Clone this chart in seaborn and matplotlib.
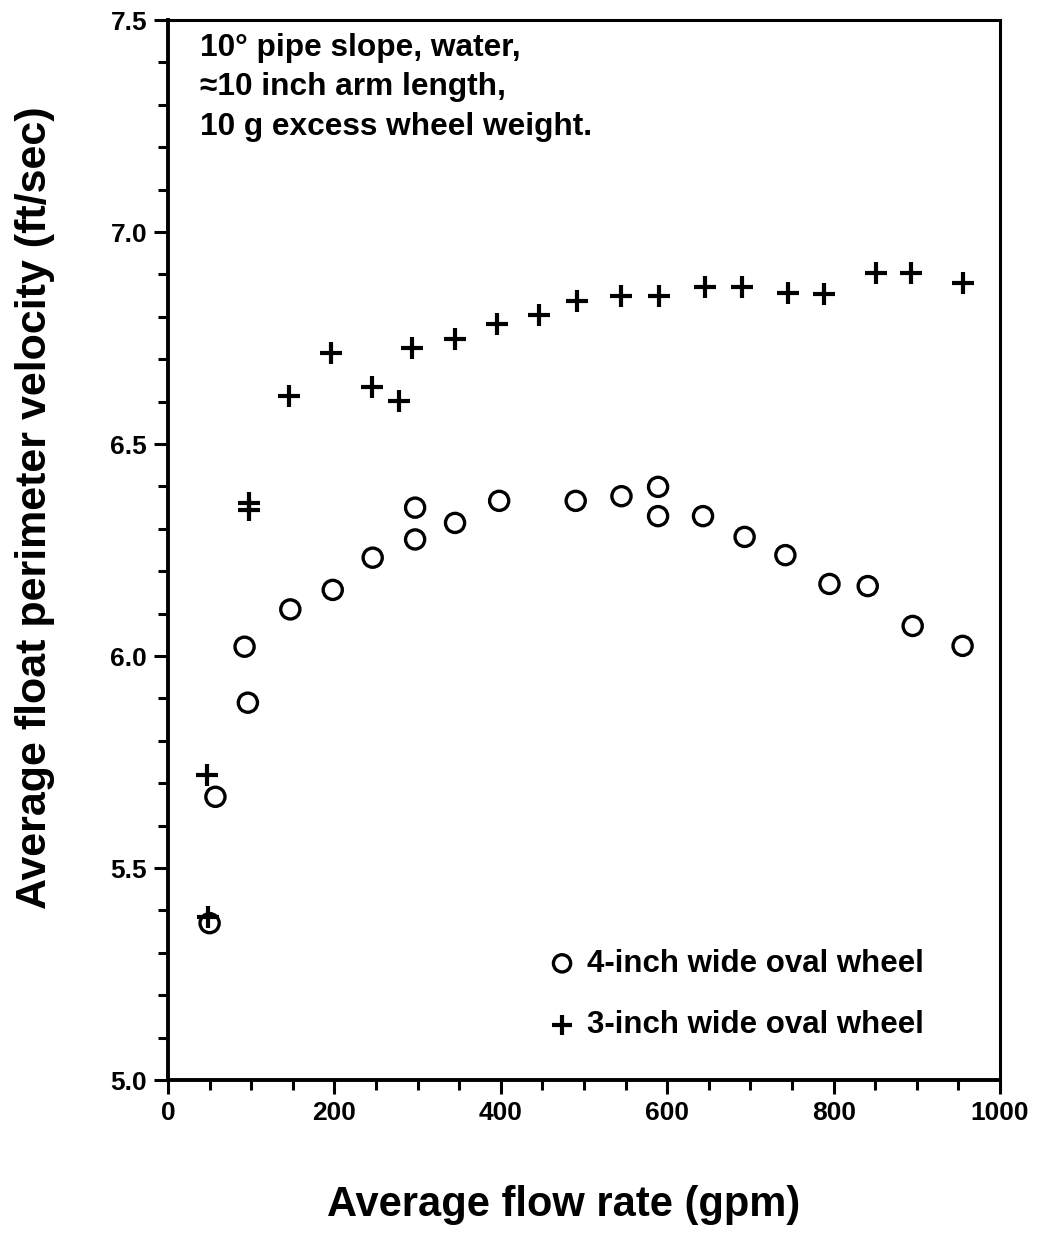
import matplotlib
matplotlib.use("Agg")
import matplotlib.pyplot as plt
import seaborn as sns
from matplotlib.ticker import MultipleLocator, FormatStrFormatter

# 4-inch wide oval wheel (circles)
flow_4in = [57, 50, 92, 96, 147, 198, 246, 297, 297, 345, 398, 490, 545,
            589, 589, 643, 693, 742, 795, 841, 895, 955]
vel_4in = [5.668, 5.370, 6.022, 5.890, 6.110, 6.156, 6.232, 6.275, 6.350,
           6.314, 6.366, 6.366, 6.377, 6.399, 6.330, 6.330, 6.281, 6.238,
           6.170, 6.165, 6.071, 6.024]

# 3-inch wide oval wheel (crosses)
flow_3in = [47, 48, 97, 97, 146, 196, 245, 278, 293, 345, 395, 446, 492,
            545, 590, 646, 690, 745, 788, 851, 893, 955]
vel_3in = [5.720, 5.385, 6.362, 6.345, 6.613, 6.715, 6.634, 6.602, 6.727,
           6.748, 6.784, 6.805, 6.838, 6.849, 6.849, 6.871, 6.871, 6.857,
           6.855, 6.904, 6.904, 6.880]

label_4in = "4-inch wide oval wheel"
label_3in = "3-inch wide oval wheel"
note = "10° pipe slope, water,\n≈10 inch arm length,\n10 g excess wheel weight."

sns.set_style("ticks")
plt.rcParams["font.family"] = ["Liberation Sans", "DejaVu Sans"]
for key in ["text.color", "axes.labelcolor", "xtick.color", "ytick.color",
            "axes.edgecolor"]:
    plt.rcParams[key] = "black"

fig = plt.figure(figsize=(10.39, 12.38), dpi=100)
ax = fig.add_axes([0.1617, 0.1276, 0.8008, 0.8562])

sns.scatterplot(x=flow_4in, y=vel_4in, marker="o", s=190, color="black",
                linewidth=2.4, label=label_4in, ax=ax)
ax.collections[-1].set_facecolor("none")
ax.collections[-1].set_edgecolor("black")
sns.scatterplot(x=flow_3in, y=vel_3in, marker="+", s=270, color="black",
                linewidth=3.0, label=label_3in, ax=ax)

ax.set_xlim(0, 1000)
ax.set_ylim(5.0, 7.5)
ax.xaxis.set_major_locator(MultipleLocator(200))
ax.xaxis.set_minor_locator(MultipleLocator(50))
ax.yaxis.set_major_locator(MultipleLocator(0.5))
ax.yaxis.set_minor_locator(MultipleLocator(0.1))
ax.yaxis.set_major_formatter(FormatStrFormatter("%.1f"))

for side in ["left", "bottom"]:
    ax.spines[side].set_linewidth(2.8)
for side in ["top", "right"]:
    ax.spines[side].set_linewidth(2.2)
    ax.spines[side].set_visible(True)

ax.tick_params(axis="both", which="major", direction="out", length=10,
               width=2.2, pad=5, labelsize=19)
ax.tick_params(axis="both", which="minor", direction="out", length=7, width=2.2)
for lab in ax.get_xticklabels() + ax.get_yticklabels():
    lab.set_fontweight("bold")

ax.set_xlabel("Average flow rate (gpm)", fontsize=30, fontweight="bold")
ax.set_ylabel("Average float perimeter velocity (ft/sec)", fontsize=31,
              fontweight="bold")
ax.xaxis.set_label_coords(0.476, -0.099)
ax.yaxis.set_label_coords(-0.136, 0.54)

ax.text(0.038, 0.988, note, transform=ax.transAxes, ha="left", va="top",
        fontsize=22.8, fontweight="bold", linespacing=1.42)

leg = ax.legend(loc="center left", bbox_to_anchor=(0.421, 0.081),
                frameon=False, prop={"weight": "bold", "size": 22.5},
                handlelength=1.0, handletextpad=0.3, labelspacing=1.0,
                markerscale=0.9)

fig.savefig("out.png", dpi=100)
